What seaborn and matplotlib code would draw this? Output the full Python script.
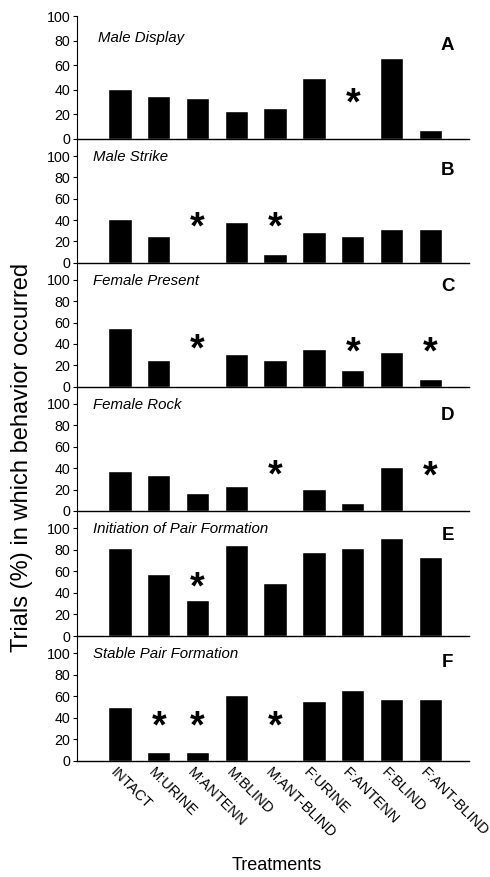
import matplotlib
matplotlib.use("Agg")
import matplotlib.pyplot as plt
import matplotlib.transforms as mtransforms
import seaborn as sns
import pandas as pd

# treatments on the x axis
treatments = ["INTACT", "M:URINE", "M:ANTENN", "M:BLIND", "M:ANT-BLIND",
              "F:URINE", "F:ANTENN", "F:BLIND", "F:ANT-BLIND"]

# percent of trials in which each behaviour occurred
male_display = [41, 35, 33, 23, 25, 50, 0, 66, 7.5]
male_strike = [41, 25, 0, 38, 8, 29, 25, 32, 32]
female_present = [55, 25, 0, 30.5, 25, 35.5, 16, 32, 7]
female_rock = [37, 33.5, 17, 23, 0, 20.5, 7, 41.5, 0]
pair_initiation = [82, 58, 33, 84, 49, 78, 82, 90.5, 73.5]
pair_stable = [50, 8, 8, 61, 0, 56, 66, 57, 57]

behaviours = ["Male Display", "Male Strike", "Female Present", "Female Rock",
              "Initiation of Pair Formation", "Stable Pair Formation"]
panel_letters = ["A", "B", "C", "D", "E", "F"]
series = [male_display, male_strike, female_present, female_rock,
          pair_initiation, pair_stable]

# significant differences (treatment index, height of the asterisk)
stars = [
    [(6, 33)],
    [(2, 37), (4, 37)],
    [(2, 39), (6, 36), (8, 36)],
    [(4, 37), (8, 36)],
    [(2, 49)],
    [(1, 36), (2, 36), (4, 36)],
]

sns.set_style("ticks")
plt.rcParams["font.family"] = ["Liberation Sans", "DejaVu Sans"]
plt.rcParams["text.color"] = "black"
plt.rcParams["axes.labelcolor"] = "black"
plt.rcParams["xtick.color"] = "black"
plt.rcParams["ytick.color"] = "black"

fig = plt.figure(figsize=(4.9, 8.77), dpi=100)
W, H = 490.0, 877.0
left, right = 77.3, 469.0
# pixel edges of the six panels (top, bottom)
edges = [(16, 139), (139, 262.7), (262.7, 386.7), (386.7, 511), (511, 636), (636, 760.7)]
ylims = [100, 116, 116, 116, 116, 116]
letter_y = [76, 86, 94, 89, 93, 91]

axes = []
for i, (top, bot) in enumerate(edges):
    ax = fig.add_axes([left / W, 1 - bot / H, (right - left) / W, (bot - top) / H])
    ax.patch.set_visible(False)
    df = pd.DataFrame({"treatment": treatments, "pct": series[i]})
    sns.barplot(data=df, x="treatment", y="pct", color="black", width=0.6,
                saturation=1, ax=ax)
    ax.set_xlim(-1.1, 9.0)
    ax.set_ylim(0, ylims[i])
    ax.set_yticks([0, 20, 40, 60, 80, 100])
    ax.tick_params(axis="y", labelsize=10.3, length=3, width=0.8, pad=2, colors="black")
    ax.tick_params(axis="x", length=0, colors="black")
    sns.despine(ax=ax)
    for s in ("left", "bottom"):
        ax.spines[s].set_color("black")
        ax.spines[s].set_zorder(5)
    ax.spines["left"].set_linewidth(0.8)
    ax.spines["bottom"].set_linewidth(1.0)
    ax.set_xlabel("")
    ax.set_ylabel("")
    ty = 82 if i == 0 else 99
    tx = -0.57 if i == 0 else -0.7
    ax.text(tx, ty, behaviours[i], style="italic", fontsize=10.8, va="center", ha="left",
            color="black")
    ax.text(8.45, letter_y[i], panel_letters[i], fontweight="bold", fontsize=13.5,
            va="center", ha="center", color="black")
    for idx, h in stars[i]:
        ax.text(idx, h - 5, "*", fontweight="bold", fontsize=27, ha="center", va="center",
                color="black")
    if i < 5:
        ax.set_xticklabels([])
    else:
        ax.set_xticks(range(len(treatments)))
        ax.set_xticklabels(treatments, rotation=-45, ha="left", va="top",
                           rotation_mode="anchor", fontsize=10.5, color="black")
        ax.tick_params(axis="x", pad=3)
        shift = mtransforms.ScaledTranslation(-3 / 100, 0, fig.dpi_scale_trans)
        for lab in ax.get_xticklabels():
            lab.set_transform(lab.get_transform() + shift)
    axes.append(ax)

fig.text(22 / W, 1 - 457 / H, "Trials (%) in which behavior occurred", rotation=90,
         ha="center", va="center", fontsize=17, color="black")
fig.text(277 / W, 1 - 865 / H, "Treatments", ha="center", va="center", fontsize=13,
         color="black")

fig.savefig("out.png", dpi=100)
